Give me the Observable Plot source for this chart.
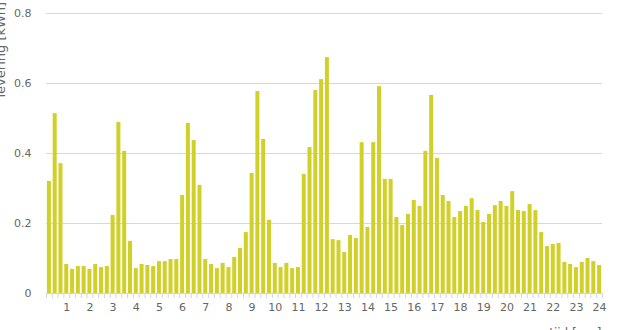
<!DOCTYPE html>
<html><head><meta charset="utf-8">
<script src="https://cdn.jsdelivr.net/npm/d3@7"></script>
<script src="https://cdn.jsdelivr.net/npm/@observablehq/plot@0.6"></script>
<style>body{margin:0;background:#fff;}</style>
</head><body><div id="chart"></div>
<script>
// Levering per kwartier (kWh), 96 kwartieren
const values = [
  0.320, 0.514, 0.371, 0.083, 0.069, 0.077, 0.077, 0.069,
  0.083, 0.074, 0.077, 0.223, 0.489, 0.406, 0.149, 0.071,
  0.083, 0.080, 0.077, 0.091, 0.091, 0.097, 0.097, 0.280,
  0.486, 0.437, 0.309, 0.097, 0.083, 0.071, 0.086, 0.074,
  0.103, 0.129, 0.174, 0.343, 0.577, 0.440, 0.209, 0.086,
  0.074, 0.086, 0.071, 0.074, 0.340, 0.417, 0.580, 0.611,
  0.674, 0.154, 0.151, 0.117, 0.166, 0.157, 0.431, 0.189,
  0.431, 0.591, 0.326, 0.326, 0.217, 0.194, 0.226, 0.266,
  0.249, 0.406, 0.566, 0.386, 0.280, 0.263, 0.217, 0.234,
  0.249, 0.271, 0.237, 0.203, 0.226, 0.251, 0.263, 0.249,
  0.291, 0.237, 0.234, 0.254, 0.237, 0.174, 0.134, 0.140,
  0.143, 0.089, 0.083, 0.074, 0.089, 0.100, 0.091, 0.080
];
const hourLabels = d3.range(1, 25);
const yTicks = [0, 0.2, 0.4, 0.6, 0.8];
const yTitle = "levering [kWh]";
const xTitle = "tijd [uur]";

// each value is a quarter hour ending at (i+1)/4 hours
const data = values.map((v, i) => ({t: (i + 1) / 4, v}));
const boundaries = d3.range(97).map(i => i / 4 + 0.125);

const chart = Plot.plot({
  width: 627, height: 330,
  marginLeft: 46, marginRight: 25, marginTop: 13, marginBottom: 37,
  style: {fontFamily: "DejaVu Sans", fontSize: "11px", color: "#666", background: "#fff", overflow: "hidden"},
  x: {type: "linear", domain: [0.125, 24.125]},
  y: {domain: [0, 0.8]},
  marks: [
    Plot.gridY(yTicks.filter(d => d > 0), {stroke: "#d8d8d8", strokeOpacity: 1}),
    Plot.rectY(data, {x1: d => d.t - 0.125, x2: d => d.t + 0.125, y: "v", insetLeft: 0.9, insetRight: 0.9, fill: "#d0d028"}),
    Plot.ruleY([0], {stroke: "#ccd6eb"}),
    Plot.axisY(yTicks, {tickSize: 0, tickPadding: 15, label: null, fill: "#666", tickFormat: d => d === 0 ? "0" : d.toFixed(1)}),
    Plot.axisX(boundaries, {tickSize: 5, tickFormat: () => "", stroke: "#ccd6eb", strokeOpacity: 1, label: null}),
    Plot.axisX(hourLabels, {tickSize: 0, tickPadding: 10, label: null, fill: "#666", tickFormat: d => String(d)}),
    Plot.text([yTitle], {frameAnchor: "top-left", rotate: -90, textAnchor: "start", lineAnchor: "bottom", dx: -41.5, dy: 84, fontSize: 13, fill: "#666"}),
    Plot.text([xTitle], {frameAnchor: "bottom-right", textAnchor: "end", lineAnchor: "bottom", dx: -1, dy: 43, fontSize: 12, fill: "#666"})
  ]
});
document.getElementById("chart").appendChild(chart);
</script>
</body></html>
